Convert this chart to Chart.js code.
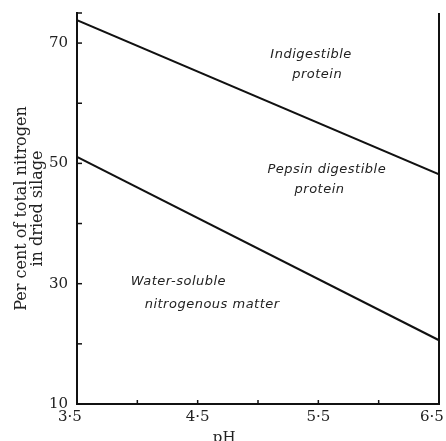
<!DOCTYPE html>
<html>
<head>
<meta charset="utf-8">
<script src="https://cdn.jsdelivr.net/npm/chart.js@4/dist/chart.umd.min.js"></script>
<style>
  html, body { margin: 0; padding: 0; background: #fff; }
  #wrap { width: 446px; height: 441px; }
</style>
</head>
<body>
<div id="wrap"><canvas id="chart" width="446" height="441"></canvas></div>
<script>
// pH at the two ends of each boundary line
const phValues = [3.5, 6.5]
// upper line: pepsin digestible / indigestible boundary
const upperBoundary = [73.8, 48.2]
// lower line: water-soluble / pepsin digestible boundary
const lowerBoundary = [51.1, 20.6]

const xLabelTicks = [3.5, 4.5, 5.5, 6.5]
const yLabelTicks = [10, 30, 50, 70]

// region names written inside the plot, placed in data units
const regionLabels = [
    { text: 'Indigestible', x: 5.44, y: 68.0 },
    { text: 'protein', x: 5.49, y: 64.7 },
    { text: 'Pepsin digestible', x: 5.57, y: 48.9 },
    { text: 'protein', x: 5.51, y: 45.6 },
    { text: 'Water-soluble', x: 4.34, y: 30.3 },
    { text: 'nitrogenous matter', x: 4.62, y: 26.5 },
]

const serif = '"DejaVu Serif", "Liberation Serif", serif'

// end labels sit a little to the left of their tick, as in the print
function phLabel(v) {
    if (!xLabelTicks.includes(v)) return ''
    const s = v.toFixed(1).replace('.', '·')
    return (v === 3.5 || v === 6.5) ? s + '\u00a0\u00a0\u00a0' : s
}

const frame = {
    id: 'frame',
    afterDraw(chart) {
        const ctx = chart.ctx
        const xs = chart.scales.x
        const ys = chart.scales.y
        const area = chart.chartArea
        ctx.save()
        ctx.strokeStyle = '#111'
        ctx.lineWidth = 2
        // right border
        ctx.beginPath()
        ctx.moveTo(xs.getPixelForValue(6.5), ys.getPixelForValue(75))
        ctx.lineTo(xs.getPixelForValue(6.5), ys.getPixelForValue(10))
        ctx.stroke()
        // inward ticks
        ctx.lineWidth = 1.5
        ys.ticks.forEach(t => {
            const py = ys.getPixelForValue(t.value)
            ctx.beginPath()
            ctx.moveTo(area.left, py)
            ctx.lineTo(area.left + 5, py)
            ctx.stroke()
        })
        xs.ticks.forEach(t => {
            const px = xs.getPixelForValue(t.value)
            ctx.beginPath()
            ctx.moveTo(px, area.bottom)
            ctx.lineTo(px, area.bottom - 4)
            ctx.stroke()
        })
        // region labels
        ctx.fillStyle = '#222'
        ctx.font = 'italic 13px "DejaVu Sans", sans-serif'
        ctx.letterSpacing = '0.5px'
        ctx.textAlign = 'center'
        ctx.textBaseline = 'middle'
        regionLabels.forEach(l => {
            ctx.fillText(l.text, xs.getPixelForValue(l.x), ys.getPixelForValue(l.y))
        })
        ctx.letterSpacing = '0px'
        // x axis title
        ctx.font = '15px ' + serif
        ctx.fillText('pH', xs.getPixelForValue(4.72), area.bottom + 34)
        ctx.restore()
    }
}

const ctx = document.getElementById('chart').getContext('2d')
new Chart(ctx, {
    type: 'line',
    data: {
        datasets: [
            {
                data: phValues.map((x, i) => ({ x: x, y: upperBoundary[i] })),
                borderColor: '#111',
                borderWidth: 2,
                pointRadius: 0,
            },
            {
                data: phValues.map((x, i) => ({ x: x, y: lowerBoundary[i] })),
                borderColor: '#111',
                borderWidth: 2,
                pointRadius: 0,
            },
        ]
    },
    options: {
        responsive: false,
        animation: false,
        events: [],
        layout: { padding: { top: 13, right: 7, left: 0, bottom: 0 } },
        plugins: {
            legend: { display: false },
            tooltip: { enabled: false },
        },
        scales: {
            x: {
                type: 'linear',
                min: 3.5,
                max: 6.5,
                border: { display: true, color: '#111', width: 2 },
                grid: { display: false, drawTicks: false },
                ticks: {
                    stepSize: 0.5,
                    autoSkip: false,
                    maxRotation: 0,
                    padding: 4,
                    color: '#222',
                    font: { family: serif, size: 15 },
                    callback: phLabel,
                },
                afterFit: s => { s.height = 37; s.paddingRight = 0; s.paddingLeft = 0 },
            },
            y: {
                min: 10,
                max: 75,
                border: { display: true, color: '#111', width: 2 },
                grid: { display: false, drawTicks: false },
                ticks: {
                    stepSize: 10,
                    autoSkip: false,
                    padding: 9,
                    color: '#222',
                    font: { family: serif, size: 15 },
                    callback: v => yLabelTicks.includes(v) ? String(v) : '',
                },
                title: {
                    display: true,
                    text: ['Per cent of total nitrogen', 'in dried silage'],
                    color: '#222',
                    font: { family: serif, size: 16, lineHeight: 1.0 },
                    padding: { top: 14, bottom: 0 },
                },
                afterFit: s => { s.width = 77; s.paddingTop = 0; s.paddingBottom = 0 },
            },
        },
    },
    plugins: [frame],
})
</script>
</body>
</html>
